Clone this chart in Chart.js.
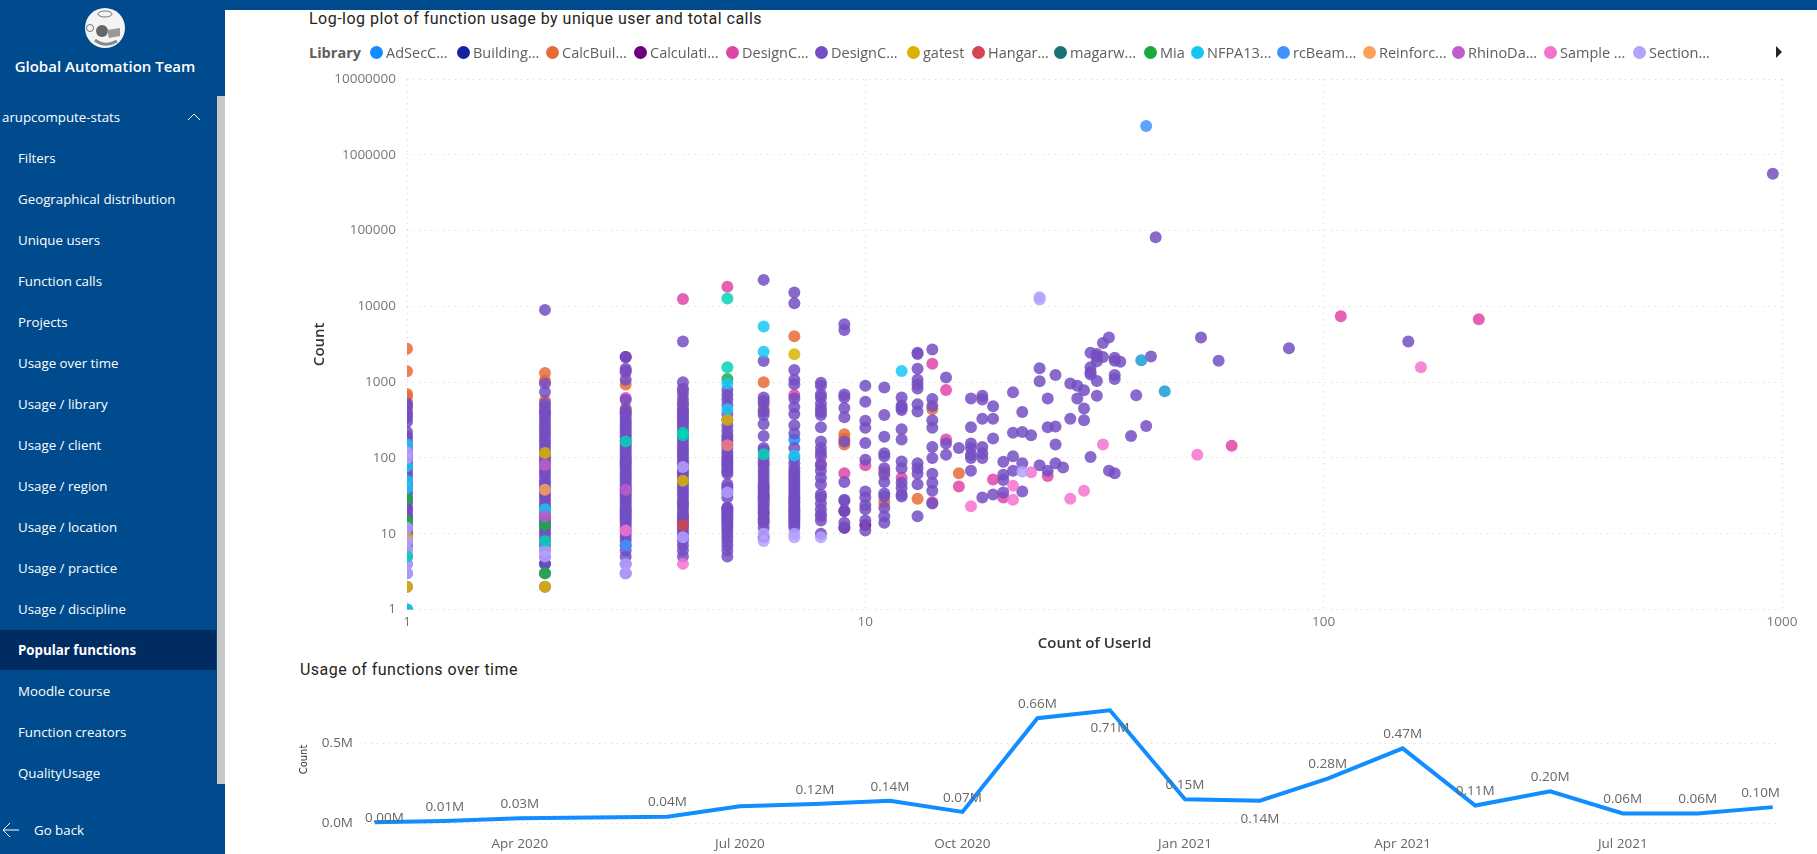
<!DOCTYPE html>
<html lang="en">
<head>
<title>Popular functions</title>
<meta charset="UTF-8">
<style>
  html, body { margin: 0; padding: 0; background: #fff; overflow: hidden; width: 1817px; height: 854px; font-family: "Open Sans", sans-serif; }
  #topbar { position: absolute; left: 0; top: 0; width: 1817px; height: 10px; background: #004b8d; }
  #sidebar { position: absolute; left: 0; top: 0; width: 225px; height: 854px; background: #004b8d; color: #fff; }
  #scroll { position: absolute; left: 217px; top: 96px; width: 8px; height: 688px; background: #c8c8c8; }
  #selected { position: absolute; left: 0; top: 630px; width: 216px; height: 40px; background: #002c62; }
  #team { position: absolute; left: 0; width: 210px; top: 55px; text-align: center; font-size: 15px; font-weight: 600; line-height: 22px; }
  .menu { position: absolute; left: 18px; font-size: 13.3px; line-height: 20px; white-space: nowrap; }
  .title { position: absolute; font-family: Roboto, sans-serif; font-size: 16px; color: #252423; white-space: nowrap; letter-spacing: 0.48px; }
  .lg { position: absolute; top: 43px; font-size: 14.5px; line-height: 20px; color: #605e5c; white-space: nowrap; }
  .dot { position: absolute; top: 46px; width: 13px; height: 13px; border-radius: 50%; }
  canvas { position: absolute; }
</style>
</head>
<body>
<div id="topbar"></div>
<div id="sidebar">
  <svg style="position:absolute;left:85px;top:8px" width="40" height="40" viewBox="0 0 40 40">
    <circle cx="20" cy="20" r="20" fill="#f4f4f4"/>
    <ellipse cx="20" cy="6" rx="7" ry="3" fill="none" stroke="#777"/>
    <circle cx="17" cy="23" r="6" fill="#666"/>
    <circle cx="5" cy="20" r="3.5" fill="none" stroke="#777"/>
    <path d="M22 22 L35 20 L35 28 L24 30 Z" fill="#999"/>
    <path d="M10 32 Q20 40 32 33" fill="none" stroke="#888" stroke-width="3"/>
  </svg>
  <div id="team">Global Automation Team</div>
  <div id="selected"></div>
  <div id="scroll"></div>
  <svg style="position:absolute;left:187px;top:112px" width="14" height="10"><path d="M1 8 L7 2 L13 8" fill="none" stroke="#fff" stroke-width="1"/></svg>
  <svg style="position:absolute;left:2px;top:822px" width="18" height="16"><path d="M17 8 H1 M8 1 L1 8 L8 15" fill="none" stroke="#fff" stroke-width="1"/></svg>
</div>
<div class="title" style="left:309px;top:9px">Log-log plot of function usage by unique user and total calls</div>
<div class="title" style="left:300px;top:660px">Usage of functions over time</div>
<div class="lg" style="left:309px;font-weight:700">Library</div>
<svg style="position:absolute;left:1775px;top:45px" width="8" height="14"><path d="M1 1 L7 7 L1 13 Z" fill="#252423"/></svg>
<canvas id="scatter" style="left:225px;top:60px;width:1592px;height:600px"></canvas>
<canvas id="usage" style="left:225px;top:660px;width:1592px;height:194px"></canvas>

<script src="https://cdn.jsdelivr.net/npm/chart.js@4/dist/chart.umd.min.js"></script>
<script>
const menuItems = ["Filters", "Geographical distribution", "Unique users", "Function calls", "Projects", "Usage over time",
  "Usage / library", "Usage / client", "Usage / region", "Usage / location", "Usage / practice", "Usage / discipline",
  "Popular functions", "Moodle course", "Function creators", "QualityUsage"];

const libraryNames = ["AdSecC...", "Building...", "CalcBuil...", "Calculati...", "DesignC...", "DesignC...", "gatest", "Hangar...",
  "magarw...", "Mia", "NFPA13...", "rcBeam...", "Reinforc...", "RhinoDa...", "Sample ...", "Section..."];
const libraryColors = ["#118dff", "#12239e", "#e66c37", "#6b007b", "#e044a7", "#744ec2", "#d9b300", "#d64550",
  "#197278", "#1aab40", "#15c6f4", "#4092ff", "#ffa058", "#be5dc9", "#f472d0", "#b5a1ff"];
const legendDotX = [370, 457, 546, 634, 726, 815, 907, 972, 1054, 1144, 1191, 1277, 1363, 1452, 1544, 1633];

// each row is [count of users, then the call counts seen at that user count]
const adSecC = [[1, 21], [4, 480], [7, 175]];
const buildingC = [[2, 4]];
const calcBuil = [[1, 2760, 1390, 700, 640, 540, 460], [2, 1320, 1050, 570, 400], [3, 930, 450, 390], [4, 780, 510, 420, 25],
  [6, 1000, 440], [7, 4050, 26], [9, 205, 180, 150], [11, 66, 26], [13, 29], [14, 440], [16, 63]];
const calculati = [[3, 2150], [9, 20, 12], [10, 13]];
const designCPink = [[3, 1350, 620], [4, 12500], [5, 18200, 22], [6, 31], [7, 680], [8, 83, 17], [9, 63], [10, 80], [12, 55],
  [14, 1750, 26], [15, 790, 175], [16, 42], [19, 52], [20, 30], [25, 58], [63, 145], [109, 7400], [218, 6760]];
const designCPurple = [
  [1, 520, 480, 400, 370, 340, 300, 220, 195, 180, 160, 150, 135, 120, 110, 100, 90, 82, 75, 68, 62, 56, 50, 45, 41, 37, 34, 30, 27, 25, 22, 20,
    18, 17, 16, 15, 14, 13, 12, 11, 10, 9, 8, 7, 6, 5, 4, 3, 2],
  [2, 9000, 960, 740, 520, 470, 420, 385, 350, 315, 280, 255, 230, 210, 190, 170, 155, 140, 125, 112, 100, 92, 85, 76, 68, 62, 56, 50, 46, 42,
    38, 34, 31, 28, 25, 23, 21, 19, 17, 16, 15, 14, 13, 12, 11, 10, 9, 8, 7, 6, 5, 4, 3, 2],
  [3, 2150, 1500, 1400, 1080, 580, 430, 400, 370, 340, 310, 290, 270, 250, 230, 215, 200, 185, 170, 155, 145, 135, 125, 115, 107, 100, 95, 90, 85,
    80, 75, 70, 65, 60, 56, 53, 50, 46, 43, 40, 38, 36, 34, 32, 30, 28, 26, 24, 22, 21, 20, 19, 18, 17, 16, 15, 14, 13, 12, 11, 10, 9, 8, 7, 6, 5, 4, 3],
  [4, 3440, 1000, 820, 700, 600, 530, 430, 400, 370, 345, 320, 300, 280, 260, 240, 220, 200, 185, 170, 155, 140, 130, 120, 110, 100, 92, 85, 78,
    70, 65, 60, 55, 50, 46, 42, 38, 35, 32, 29, 26, 24, 22, 20, 18, 17, 16, 15, 14, 13, 12, 11, 10, 9, 8, 7, 6, 5],
  [5, 790, 680, 590, 500, 380, 320, 270, 230, 200, 185, 170, 150, 135, 120, 110, 100, 95, 88, 82, 76, 70, 66, 62, 45, 41, 38, 34, 30, 22,
    21, 20, 19, 18, 17, 16, 15, 14, 13, 12, 11, 10, 9, 8, 7, 6, 5],
  [6, 22400, 1900, 630, 570, 520, 410, 370, 280, 195, 135, 125, 100, 88, 80, 70, 62, 55, 48, 44, 41, 38, 35, 32, 30, 28, 26, 24, 22, 20, 19, 18, 16, 15, 14, 12, 9],
  [7, 15300, 11000, 1450, 1080, 940, 610, 470, 380, 270, 210, 135, 100, 85, 73, 66, 60, 55, 50, 46, 42, 38, 35, 32, 30, 28, 26, 24, 22, 21, 20,
    19, 18, 17, 16, 15, 14, 13, 12],
  [8, 980, 900, 690, 630, 520, 450, 400, 370, 255, 165, 135, 118, 105, 80, 68, 55, 45, 33, 30, 25, 21, 18, 15, 10],
  [9, 5800, 4900, 690, 630, 455, 345, 165, 48, 28, 27, 20, 14, 12],
  [10, 900, 550, 310, 250, 158, 95, 36, 30, 24, 21, 15, 11],
  [11, 850, 370, 190, 115, 105, 73, 60, 48, 34, 31, 22, 17, 14],
  [12, 630, 490, 460, 430, 240, 175, 90, 73, 47, 40, 33, 31],
  [13, 2450, 2350, 1500, 1080, 930, 825, 510, 410, 85, 73, 62, 45, 17],
  [14, 2700, 600, 485, 315, 250, 140, 100, 62, 47, 37, 25],
  [15, 1150, 155, 110], [16, 135], [17, 610, 255, 155, 135, 110, 100, 68], [18, 660, 590, 330, 140, 115, 100, 30],
  [19, 480, 330, 180, 33], [20, 89, 60, 51, 35], [21, 735, 215, 105, 68], [22, 405, 220, 85, 36], [23, 200],
  [24, 1530, 1030, 80], [25, 610, 255, 68], [26, 1240, 260, 150, 85], [27, 75], [28, 960, 330], [29, 900, 610],
  [30, 780, 450, 315], [31, 2450, 1580, 1350, 1260, 103], [32, 2350, 2180, 1890, 1040, 660], [33, 3300, 2150],
  [34, 3900, 68], [35, 2100, 1920, 1240, 1100, 63], [36, 1860], [38, 195], [39, 670], [41, 265], [42, 2180], [43, 82000],
  [54, 3900], [59, 1920], [84, 2800], [153, 3450], [955, 565000]];
const gatest = [[1, 9, 2], [2, 116, 2], [4, 50], [5, 320], [7, 2340]];
const hangar = [[4, 13]];
const magarw = [[1, 1]];
const mia = [[1, 29, 15], [2, 13, 3], [5, 1100]];
const nfpa = [[1, 150, 78, 50, 40, 1], [2, 21], [5, 960, 440], [6, 5430, 2520], [7, 108], [12, 1400]];
const rcBeam = [[3, 7], [41, 2400000]];
const reinforc = [[2, 38]];
const rhinoDa = [[2, 81, 17], [3, 38]];
const sampleLib = [[3, 11], [4, 4], [17, 23], [21, 43, 28], [23, 65], [28, 29], [30, 37], [33, 150], [53, 110], [163, 1570]];
const sectionLib = [[1, 118, 100, 12, 8, 6, 4, 3], [2, 6, 5], [3, 4, 3], [4, 76, 9], [5, 35], [6, 10, 8], [7, 10, 9], [8, 9],
  [22, 66], [24, 13200, 12300]];
// libraries on the next legend page, not named in the picture
const nextPageTeal = [[1, 5], [2, 8], [3, 165], [4, 215, 200], [5, 12700, 1580], [6, 112]];
const nextPageSalmon = [[5, 147]];
const nextPageBlue = [[40, 1950], [45, 760]];

const librarySeries = [adSecC, buildingC, calcBuil, calculati, designCPink, designCPurple, gatest, hangar, magarw, mia, nfpa,
  rcBeam, reinforc, rhinoDa, sampleLib, sectionLib, nextPageTeal, nextPageSalmon, nextPageBlue];
const seriesColors = libraryColors.concat(["#00d4b4", "#f47f7f", "#1a9bd7"]);

const xTicks = [1, 10, 100, 1000];
const yTicks = [1, 10, 100, 1000, 10000, 100000, 1000000, 10000000];

const usageMonths = ["2020-02", "2020-03", "2020-04", "2020-05", "2020-06", "2020-07", "2020-08", "2020-09", "2020-10", "2020-11",
  "2020-12", "2021-01", "2021-02", "2021-03", "2021-04", "2021-05", "2021-06", "2021-07", "2021-08", "2021-09"];
const usageCounts = [4000, 12000, 30000, 35000, 40000, 105000, 120000, 140000, 70000, 660000,
  710000, 150000, 140000, 280000, 470000, 110000, 200000, 60000, 60000, 100000];
const unlabelledMonths = ["2020-05", "2020-07"];
const labelsBelow = ["2020-12", "2021-02"];
const usageTickMonths = ["2020-04", "2020-07", "2020-10", "2021-01", "2021-04", "2021-07"];
const usageTickLabels = ["Apr 2020", "Jul 2020", "Oct 2020", "Jan 2021", "Apr 2021", "Jul 2021"];
const usageYTicks = [0, 500000];

// sidebar and legend
const sidebar = document.getElementById("sidebar");
function addMenu(text, left, top, bold) {
  const d = document.createElement("div");
  d.className = "menu";
  d.textContent = text;
  d.style.left = left + "px";
  d.style.top = top + "px";
  if (bold) d.style.fontWeight = "700";
  sidebar.appendChild(d);
}
addMenu("arupcompute-stats", 2, 107);
menuItems.forEach((m, i) => addMenu(m, 18, 148 + i * 41, m === "Popular functions"));
addMenu("Go back", 34, 820);

libraryNames.forEach((n, i) => {
  const dot = document.createElement("div");
  dot.className = "dot";
  dot.style.left = legendDotX[i] + "px";
  dot.style.background = libraryColors[i];
  document.body.appendChild(dot);
  const t = document.createElement("div");
  t.className = "lg";
  t.style.left = (legendDotX[i] + 16) + "px";
  t.textContent = n;
  document.body.appendChild(t);
});

const dotted = { color: "#d4d4d4", lineWidth: 1, drawTicks: false };
const dash = { display: false, dash: [1, 5] };
const tickFont = { family: "Open Sans", size: 13.5 };
const axisTitleFont = { family: "Open Sans", size: 15, weight: "600" };

const scatterSets = librarySeries.map((rows, i) => {
  const points = [];
  rows.forEach(r => r.slice(1).forEach(c => points.push({ x: r[0], y: c })));
  return {
    label: libraryNames[i] || "next page",
    data: points,
    backgroundColor: seriesColors[i] + "d8",
    borderWidth: 0,
    pointRadius: 6,
    pointHoverRadius: 6,
    clip: 0,
    order: librarySeries.length - i
  };
});

new Chart(document.getElementById("scatter"), {
  type: "scatter",
  data: { datasets: scatterSets },
  options: {
    responsive: false,
    animation: false,
    devicePixelRatio: 1,
    layout: { padding: { left: 86, right: 35, top: 19, bottom: 0 } },
    plugins: { legend: { display: false }, tooltip: { enabled: false } },
    scales: {
      x: {
        type: "logarithmic", min: 1, max: 1000,
        grid: dotted, border: dash,
        afterBuildTicks: s => { s.ticks = xTicks.map(v => ({ value: v })); },
        afterFit: s => { s.height = 50.5; },
        ticks: { color: "#777", font: tickFont, padding: 5, maxRotation: 0, callback: v => String(v) },
        title: { display: true, text: "Count of UserId", color: "#333", font: axisTitleFont, padding: { top: 0, bottom: 7 } }
      },
      y: {
        type: "logarithmic", min: 1, max: 10000000,
        grid: dotted, border: dash,
        afterBuildTicks: s => { s.ticks = yTicks.map(v => ({ value: v })); },
        afterFit: s => { s.width = 96; },
        ticks: { color: "#777", font: tickFont, padding: 11, callback: v => String(v) },
        title: { display: true, text: "Count", color: "#333", font: axisTitleFont, padding: { top: 0, bottom: 0 } }
      }
    }
  }
});

// labels over the usage line, kept inside the plot at both ends
const usageLabels = {
  id: "usageLabels",
  afterDatasetsDraw(chart) {
    const ctx = chart.ctx;
    const pts = chart.getDatasetMeta(0).data;
    ctx.save();
    ctx.font = "13.5px 'Open Sans'";
    ctx.fillStyle = "#666";
    ctx.textAlign = "center";
    ctx.textBaseline = "middle";
    usageMonths.forEach((m, i) => {
      if (unlabelledMonths.includes(m)) return;
      const text = (usageCounts[i] / 1000000).toFixed(2) + "M";
      const half = ctx.measureText(text).width / 2;
      const x = Math.min(Math.max(pts[i].x, chart.chartArea.left + half), chart.chartArea.right - half);
      let y = pts[i].y - 14;
      if (labelsBelow.includes(m)) y = pts[i].y + 18;
      if (i === 0) y = pts[i].y - 4;
      ctx.fillText(text, x, y);
    });
    ctx.restore();
  }
};

const monthTime = m => Date.parse(m + "-01T00:00:00Z");

new Chart(document.getElementById("usage"), {
  type: "line",
  data: {
    datasets: [{
      data: usageMonths.map((m, i) => ({ x: monthTime(m), y: usageCounts[i] })),
      borderColor: "#118dff",
      borderWidth: 4,
      pointRadius: 0,
      tension: 0,
      clip: false
    }]
  },
  plugins: [usageLabels],
  options: {
    responsive: false,
    animation: false,
    devicePixelRatio: 1,
    layout: { padding: { left: 73, right: 37, top: 36, bottom: 0 } },
    plugins: { legend: { display: false }, tooltip: { enabled: false } },
    scales: {
      x: {
        type: "linear",
        min: Date.parse("2020-01-28T00:00:00Z"),
        max: Date.parse("2021-09-04T00:00:00Z"),
        grid: { display: false },
        border: { display: false },
        afterBuildTicks: s => { s.ticks = usageTickMonths.map(m => ({ value: monthTime(m) })); },
        afterFit: s => { s.height = 31; },
        afterTickToLabelConversion: s => { s.ticks.forEach((t, i) => { t.label = usageTickLabels[i]; }); },
        ticks: { color: "#666", font: tickFont, padding: 5, maxRotation: 0, autoSkip: false }
      },
      y: {
        min: 0, max: 800000,
        grid: dotted, border: dash,
        afterBuildTicks: s => { s.ticks = usageYTicks.map(v => ({ value: v })); },
        afterFit: s => { s.width = 67; },
        ticks: { color: "#666", font: tickFont, padding: 12, callback: v => (v / 1000000).toFixed(1) + "M" },
        title: { display: true, text: "Count", color: "#333", font: { family: "DejaVu Sans", size: 10 }, padding: { top: 0, bottom: 0 } }
      }
    }
  }
});
</script>
</body>
</html>
